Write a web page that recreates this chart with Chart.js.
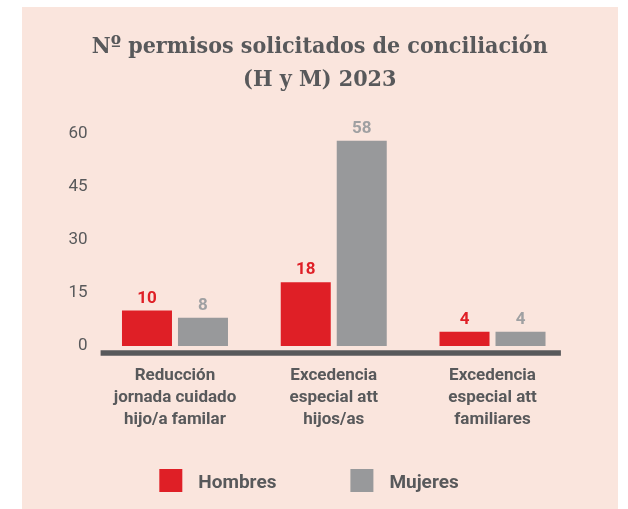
<!DOCTYPE html>
<html>
<head>
<meta charset="utf-8">
<script src="https://cdn.jsdelivr.net/npm/chart.js@4/dist/chart.umd.min.js"></script>
<style>
  html, body { margin: 0; padding: 0; background: #ffffff; }
  #wrap { width: 628px; height: 509px; position: relative; }
</style>
</head>
<body>
<div id="wrap"><canvas id="c" width="628" height="509"></canvas></div>
<script>
// ---- Data ----
const categories = [
  ["Reducción", "jornada cuidado", "hijo/a familar"],
  ["Excedencia", "especial att", "hijos/as"],
  ["Excedencia", "especial att", "familiares"]
];
const seriesNames = ["Hombres", "Mujeres"];
const hombres = [10, 18, 4];
const mujeres = [8, 58, 4];
const yTicks = [0, 15, 30, 45, 60];
const titleLines = ["Nº permisos solicitados de conciliación", "(H y M) 2023"];

// ---- Styles ----
const RED = "#df1f26";
const GREY = "#98999b";
const GREY_LABEL = "#9fa0a2";
const TEXT = "#58595b";
const PINK = "#fae5dd";
const SANS = "Roboto, 'Open Sans', sans-serif";

const panelPlugin = {
  id: "panel",
  beforeDraw(chart) {
    const ctx = chart.ctx;
    ctx.save();
    ctx.fillStyle = PINK;
    ctx.fillRect(22, 7, 596, 502);
    ctx.restore();
  }
};

const baselinePlugin = {
  id: "baseline",
  afterDatasetsDraw(chart) {
    const ctx = chart.ctx, a = chart.chartArea;
    ctx.save();
    ctx.strokeStyle = TEXT;
    ctx.lineWidth = 5.5;
    ctx.beginPath();
    ctx.moveTo(a.left + 5, a.bottom);
    ctx.lineTo(a.right - 11, a.bottom);
    ctx.stroke();
    ctx.restore();
  }
};

const valueLabelPlugin = {
  id: "valueLabels",
  afterDatasetsDraw(chart) {
    const ctx = chart.ctx;
    ctx.save();
    ctx.font = "bold 17px " + SANS;
    ctx.textAlign = "center";
    ctx.textBaseline = "alphabetic";
    chart.data.datasets.forEach((ds, i) => {
      const meta = chart.getDatasetMeta(i);
      ctx.fillStyle = ds.labelColor;
      meta.data.forEach((el, j) => {
        ctx.fillText(String(ds.data[j]), el.x, el.y - 8);
      });
    });
    ctx.restore();
  }
};

const legendPlugin = {
  id: "customLegend",
  afterDraw(chart) {
    const ctx = chart.ctx;
    const box = 23, gap = 16, itemGap = 74, centerX = 309, top = 469;
    ctx.save();
    ctx.font = "bold 19px " + SANS;
    ctx.textBaseline = "alphabetic";
    ctx.textAlign = "left";
    const items = chart.data.datasets.map(ds => ({ text: ds.label, color: ds.backgroundColor, w: ctx.measureText(ds.label).width }));
    let total = 0;
    items.forEach((it, i) => { total += box + gap + it.w + (i > 0 ? itemGap : 0); });
    let x = centerX - total / 2;
    items.forEach((it) => {
      ctx.fillStyle = it.color;
      ctx.fillRect(x, top, box, box);
      ctx.fillStyle = TEXT;
      ctx.fillText(it.text, x + box + gap, top + 19);
      x += box + gap + it.w + itemGap;
    });
    ctx.restore();
  }
};

new Chart(document.getElementById("c"), {
  type: "bar",
  data: {
    labels: categories,
    datasets: [
      { label: seriesNames[0], data: hombres, backgroundColor: RED, labelColor: RED },
      { label: seriesNames[1], data: mujeres, backgroundColor: GREY, labelColor: GREY_LABEL }
    ]
  },
  options: {
    responsive: false,
    animation: false,
    devicePixelRatio: 1,
    categoryPercentage: 0.7054,
    barPercentage: 0.893,
    layout: { padding: { left: 67.6, right: 56.1, top: 0, bottom: 66 } },
    plugins: {
      legend: { display: false },
      tooltip: { enabled: false },
      title: {
        display: true,
        text: titleLines,
        color: TEXT,
        font: { family: "'DejaVu Serif Condensed', 'DejaVu Serif', serif", size: 23, weight: "bold", lineHeight: 1.43 },
        padding: { top: 31, bottom: 37 }
      }
    },
    scales: {
      x: {
        grid: { display: false, drawTicks: false },
        border: { display: false },
        ticks: {
          color: TEXT,
          padding: 12,
          maxRotation: 0,
          autoSkip: false,
          font: { family: SANS, size: 17, weight: "bold", lineHeight: 1.294 }
        }
      },
      y: {
        min: -2,
        max: 60,
        grid: { display: false, drawTicks: false },
        border: { display: false },
        afterBuildTicks(scale) { scale.ticks = yTicks.map(v => ({ value: v })); },
        afterFit(scale) { scale.width = 28; },
        ticks: {
          color: TEXT,
          padding: 8,
          font: { family: SANS, size: 17 }
        }
      }
    }
  },
  plugins: [panelPlugin, baselinePlugin, valueLabelPlugin, legendPlugin]
});
</script>
</body>
</html>
